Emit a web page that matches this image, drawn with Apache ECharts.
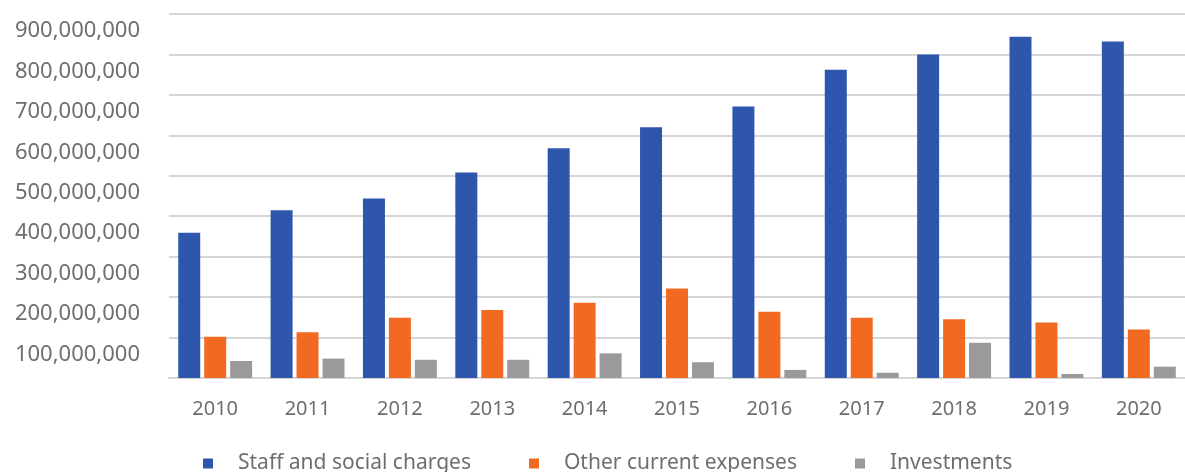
<!DOCTYPE html>
<html>
<head>
<meta charset="utf-8">
<script src="https://cdn.jsdelivr.net/npm/echarts@6/dist/echarts.min.js"></script>
<style>
  html, body { margin: 0; padding: 0; background: #fff; }
  #chart { width: 1185px; height: 472px; }
</style>
</head>
<body>
<div id="chart"></div>
<script>
const years = ["2010", "2011", "2012", "2013", "2014", "2015", "2016", "2017", "2018", "2019", "2020"];
const staff = [359000000, 415000000, 444000000, 508000000, 568000000, 620000000, 671000000, 762000000, 800000000, 844000000, 832000000];
const otherExpenses = [102000000, 113000000, 149000000, 168000000, 186000000, 221000000, 164000000, 149000000, 145000000, 137000000, 120000000];
const investments = [42000000, 48000000, 45000000, 45000000, 61000000, 39000000, 20000000, 13000000, 87000000, 10000000, 28000000];

const textColor = "#6e6e6e";
const font = "'Noto Sans', sans-serif";

const chart = echarts.init(document.getElementById("chart"));

chart.setOption({
  animation: false,
  color: ["#2f56ad", "#f26a21", "#9a9a9a"],
  grid: {
    left: 169,
    right: -7,
    top: 14,
    bottom: 94,
  },
  legend: {
    left: 198,
    top: 448,
    itemWidth: 10,
    itemHeight: 10,
    itemGap: 58,
    icon: "rect",
    textStyle: {
      color: textColor,
      fontFamily: font,
      fontSize: 21,
      padding: [0, 0, 0, 20],
    },
    data: ["Staff and social charges", "Other current expenses", "Investments"],
  },
  xAxis: {
    type: "category",
    data: years,
    axisTick: { show: false },
    axisLine: { lineStyle: { color: "#d6d6d6", width: 2 } },
    axisLabel: {
      color: textColor,
      fontFamily: font,
      fontSize: 20,
      margin: 21,
    },
  },
  yAxis: {
    type: "value",
    min: 0,
    max: 900000000,
    interval: 100000000,
    axisLine: { show: false },
    axisTick: { show: false },
    splitLine: { lineStyle: { color: "#d6d6d6", width: 2 } },
    axisLabel: {
      color: textColor,
      fontFamily: font,
      fontSize: 22,
      margin: 29,
      verticalAlign: "top",
      padding: [6, 0, 0, 0],
      formatter: (v) => (v === 0 ? "" : v.toLocaleString("en-US")),
    },
  },
  series: [
    {
      name: "Staff and social charges",
      type: "bar",
      data: staff,
      barWidth: 22,
      barGap: "18%",
    },
    {
      name: "Other current expenses",
      type: "bar",
      data: otherExpenses,
      barWidth: 22,
      barGap: "18%",
    },
    {
      name: "Investments",
      type: "bar",
      data: investments,
      barWidth: 22,
      barGap: "18%",
    },
  ],
});
</script>
</body>
</html>
